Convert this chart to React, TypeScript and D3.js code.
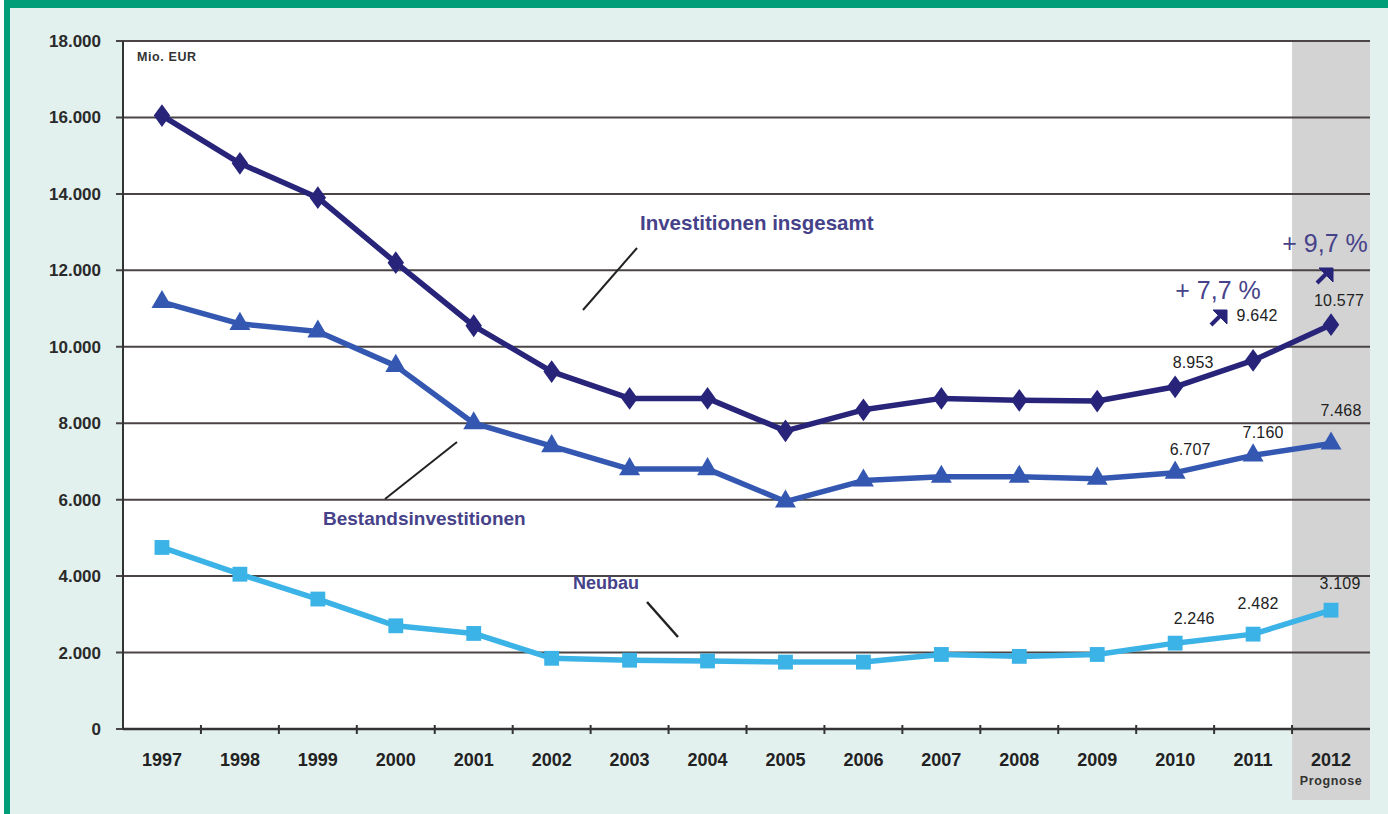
import React from "react";
import * as d3 from "d3";

const years = ["1997","1998","1999","2000","2001","2002","2003","2004","2005","2006","2007","2008","2009","2010","2011","2012"];
const insgesamt = [16050,14800,13900,12200,10550,9350,8650,8650,7800,8350,8650,8600,8580,8953,9642,10577];
const bestand = [11170,10600,10400,9500,8000,7400,6800,6800,5950,6500,6600,6600,6550,6707,7160,7468];
const neubau = [4750,4050,3400,2700,2500,1850,1800,1780,1750,1750,1950,1900,1950,2246,2482,3109];
const yTicks = [0,2000,4000,6000,8000,10000,12000,14000,16000,18000];

// value labels shown on the last three years: [series, year index, dx, dy]
const valueLabels: [number[], number, number, number][] = [
  [insgesamt, 13, 18, -19],
  [insgesamt, 14, 4, -39],
  [insgesamt, 15, 8, -19],
  [bestand, 13, 15, -18],
  [bestand, 14, 10, -17],
  [bestand, 15, 10, -28],
  [neubau, 13, 19, -19],
  [neubau, 14, 5, -25],
  [neubau, 15, 9, -21],
];

const W = 1388, H = 814;
const left = 123, right = 1370, top = 41, bottom = 729;

const fmt = (v: number) => d3.format(",")(v).replace(/,/g, ".");

export default function App() {
  const x = d3.scaleBand<string>().domain(years).range([left, right]);
  const y = d3.scaleLinear().domain([0, 18000]).range([bottom, top]);
  const cx = (i: number) => (x(years[i]) as number) + x.bandwidth() / 2;
  const line = (vals: number[]) =>
    d3.line<number>().x((_, i) => cx(i)).y((v) => y(v))(vals) as string;

  const progX = x("2012") as number;
  const font = "Arial, 'Liberation Sans', sans-serif";

  const diamond = d3.symbol().type(d3.symbolDiamond).size(150)() as string;
  const triangle = d3.symbol().type(d3.symbolTriangle).size(190)() as string;
  const square = d3.symbol().type(d3.symbolSquare).size(220)() as string;

  const series = [
    { vals: neubau, color: "#3bb3e6", path: square, sx: 1 },
    { vals: bestand, color: "#3458b2", path: triangle, sx: 1 },
    { vals: insgesamt, color: "#27247a", path: diamond, sx: 1.25 },
  ];

  const nameColor = "#46428a";

  return (
    <svg width={W} height={H} style={{ position: "absolute", left: 0, top: 0 }} fontFamily={font}>
      <rect x={0} y={0} width={W} height={H} fill="#e2f1ee" />
      <rect x={0} y={0} width={W} height={8} fill="#009e78" />
      <rect x={4} y={0} width={6} height={H} fill="#009e78" />
      <rect x={0} y={0} width={4} height={H} fill="#ffffff" />
      <rect x={left} y={top} width={right - left} height={bottom - top} fill="#ffffff" />
      <rect x={progX} y={top} width={right - progX} height={800 - top} fill="#d3d3d3" />

      {/* gridlines */}
      {yTicks.map((t) => (
        <g key={t}>
          <line x1={left - 7} x2={right} y1={y(t)} y2={y(t)} stroke="#4a4444" strokeWidth={2} />
          <text x={101} y={y(t) + 6} textAnchor="end" fontSize={17} fontWeight="bold" fill="#2a2a2a">
            {fmt(t)}
          </text>
        </g>
      ))}
      <line x1={left} x2={left} y1={top} y2={bottom} stroke="#333" strokeWidth={2} />
      <line x1={left} x2={right} y1={bottom} y2={bottom} stroke="#333" strokeWidth={2.5} />
      {years.map((yr, i) => (
        <g key={yr}>
          {i > 0 && (
            <line x1={x(yr)} x2={x(yr)} y1={bottom - 4} y2={bottom + 5} stroke="#333" strokeWidth={2} />
          )}
          <text x={cx(i)} y={766} textAnchor="middle" fontSize={18} fontWeight="bold" fill="#222">
            {yr}
          </text>
        </g>
      ))}
      <text x={cx(15)} y={785} textAnchor="middle" fontSize={12.5} fontWeight="bold" fill="#333" letterSpacing={0.6}>Prognose</text>
      <text x={137} y={61} fontSize={12.5} fontWeight="bold" fill="#333" letterSpacing={0.6}>Mio. EUR</text>

      {series.map((s, k) => (
        <g key={k}>
          <path d={line(s.vals)} fill="none" stroke={s.color} strokeWidth={5.5} strokeLinejoin="round" />
          {s.vals.map((v, i) => (
            <path key={i} d={s.path} transform={`translate(${cx(i)},${y(v)}) scale(${s.sx},1)`} fill={s.color} />
          ))}
        </g>
      ))}

      {/* series names with leader lines */}
      <text x={640} y={230} fontSize={20.5} fontWeight="bold" fill={nameColor}>Investitionen insgesamt</text>
      <line x1={637} y1={248} x2={583} y2={310} stroke="#222" strokeWidth={2} />
      <text x={323} y={525} fontSize={19} fontWeight="bold" fill={nameColor}>Bestandsinvestitionen</text>
      <line x1={457} y1={442} x2={385} y2={499} stroke="#222" strokeWidth={2} />
      <text x={573} y={589} fontSize={18} fontWeight="bold" fill={nameColor}>Neubau</text>
      <line x1={647} y1={602} x2={678} y2={637} stroke="#222" strokeWidth={2.5} />

      {valueLabels.map(([vals, i, dx, dy], k) => (
        <text key={k} x={cx(i) + dx} y={y(vals[i]) + dy} textAnchor="middle" fontSize={16} fill="#222" letterSpacing={0.2}>
          {fmt(vals[i])}
        </text>
      ))}

      {/* growth annotations */}
      <text x={1218} y={299} textAnchor="middle" fontSize={25} fill={nameColor}>+ 7,7 %</text>
      <g fill="#27247a" stroke="#27247a">
        <line x1={1211} y1={325} x2={1221} y2={315} strokeWidth={4} />
        <path d="M1213,310 L1227,310 L1227,324 Z" strokeWidth={1} />
      </g>
      <text x={1325} y={252} textAnchor="middle" fontSize={25} fill={nameColor}>+ 9,7 %</text>
      <g fill="#27247a" stroke="#27247a">
        <line x1={1317} y1={283} x2={1327} y2={273} strokeWidth={4} />
        <path d="M1319,268 L1333,268 L1333,282 Z" strokeWidth={1} />
      </g>
    </svg>
  );
}
